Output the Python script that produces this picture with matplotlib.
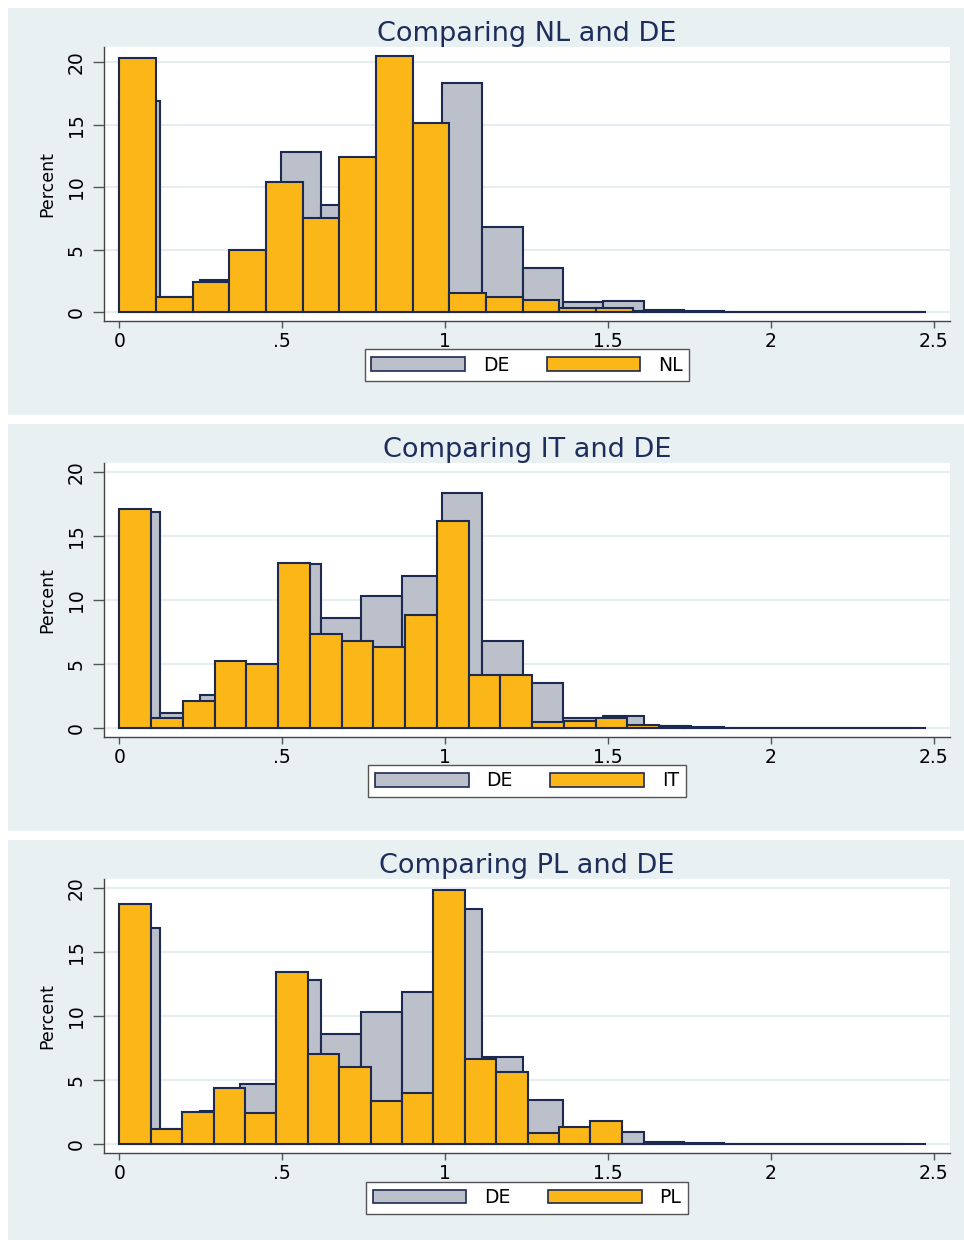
import numpy as np
import matplotlib
matplotlib.use('Agg')
import matplotlib.pyplot as plt
from matplotlib.patches import Patch, Rectangle

# Percent per bin (DE is the reference country)
de_pct = [16.9, 1.2, 2.6, 4.7, 12.85, 8.6, 10.3, 11.9, 18.35, 6.85,
          3.5, 0.83, 0.93, 0.2, 0.12, 0.05, 0.03, 0.02, 0.01, 0.01]
de_width = 0.1238

nl_pct = [20.3, 1.25, 2.45, 5.0, 10.4, 7.55, 12.45, 20.5, 15.15, 1.55,
          1.22, 1.0, 0.37, 0.37, 0.1, 0.05, 0.03, 0.02, 0.02, 0.01, 0.01, 0.01]
nl_width = 0.1126

it_pct = [17.1, 0.83, 2.16, 5.29, 5.03, 12.92, 7.4, 6.8, 6.33, 8.85,
          16.2, 4.17, 4.14, 0.49, 0.6, 0.81, 0.26, 0.18, 0.05, 0.02,
          0.02, 0.01, 0.01, 0.01, 0.01]
it_width = 0.0975

pl_pct = [18.78, 1.17, 2.55, 4.38, 2.42, 13.49, 7.03, 6.07, 3.36, 4.04,
          19.9, 6.69, 5.63, 0.91, 1.38, 1.8, 0.05, 0.03, 0.02, 0.01,
          0.01, 0.01, 0.01, 0.01, 0.01]
pl_width = 0.0964

countries = ['NL', 'IT', 'PL']
country_pct = [nl_pct, it_pct, pl_pct]
country_width = [nl_width, it_width, pl_width]

x_ticks = [0, 0.5, 1, 1.5, 2, 2.5]
x_tick_labels = ['0', '.5', '1', '1.5', '2', '2.5']
y_ticks = [0, 5, 10, 15, 20]

# colours (Stata s2color look)
bg = '#e8f0f2'
grid_c = '#e3ecef'
gray = '#bcc0ca'
orange = '#fbb618'
navy = '#1c2a52'
title_c = '#1e2e5c'

W, H = 964, 1240
fig = plt.figure(figsize=(W / 100, H / 100), dpi=100, facecolor='white')
plt.rcParams['font.family'] = ['DejaVu Sans']


def fx(px):
    return px / W


def fy(px):
    return 1 - px / H


# panel background boxes, in pixels: (top, bottom)
panels = [(8, 415), (424, 831), (840, 1240)]
# plot area in pixels: (top, bottom) and y limits
plot_boxes = [(47, 321), (463.3, 736.7), (879.4, 1153.3)]
y_limits = [(-0.70, 21.22), (-0.66, 20.70), (-0.70, 20.69)]

for i, name in enumerate(countries):
    top, bot = panels[i]
    fig.patches.append(Rectangle((fx(8), fy(bot)), fx(W - 8), (bot - top) / H,
                                 transform=fig.transFigure, facecolor=bg,
                                 linewidth=0, zorder=-1))

    ptop, pbot = plot_boxes[i]
    ax = fig.add_axes([fx(104), fy(pbot), fx(950 - 104), (pbot - ptop) / H])
    ax.set_facecolor('white')

    # DE first, the other country on top
    de_x = np.arange(len(de_pct)) * de_width
    ax.bar(de_x, de_pct, width=de_width, align='edge', color=gray,
           edgecolor=navy, linewidth=1.5, zorder=2)
    c_x = np.arange(len(country_pct[i])) * country_width[i]
    ax.bar(c_x, country_pct[i], width=country_width[i], align='edge',
           color=orange, edgecolor=navy, linewidth=1.5, zorder=3)

    ax.set_xlim(-0.047, 2.55)
    ax.set_ylim(*y_limits[i])
    ax.set_xticks(x_ticks)
    ax.set_xticklabels(x_tick_labels, fontsize=13.5)
    ax.set_yticks(y_ticks)
    ax.set_yticklabels([str(v) for v in y_ticks], rotation=90, fontsize=13.5,
                       va='center')
    ax.tick_params(axis='y', length=8, width=1, color='#555555', pad=5)
    ax.tick_params(axis='x', length=5, width=1, color='#555555', pad=3)
    ax.yaxis.grid(True, color=grid_c, linewidth=1.3, zorder=0)
    ax.set_axisbelow(True)

    for s in ['top', 'right']:
        ax.spines[s].set_visible(False)
    for s in ['left', 'bottom']:
        ax.spines[s].set_color('#444444')
        ax.spines[s].set_linewidth(1)

    ax.set_ylabel('Percent', fontsize=12.5)
    ax.yaxis.set_label_coords(-0.056, 0.5)
    ax.set_title('Comparing ' + name + ' and DE', fontsize=19.5,
                 color=title_c, pad=2)

    handles = [Patch(facecolor=gray, edgecolor=navy, linewidth=1.2),
               Patch(facecolor=orange, edgecolor=navy, linewidth=1.2)]
    leg = ax.legend(handles, ['DE', name], loc='center',
                    bbox_to_anchor=(0.5, -0.162), ncol=2, fontsize=13.5,
                    frameon=True, fancybox=False, framealpha=1,
                    handlelength=5.0, handleheight=0.75, handletextpad=0.95,
                    columnspacing=2.0, borderpad=0.35)
    leg.get_frame().set_edgecolor('#555555')
    leg.get_frame().set_linewidth(1)

fig.savefig('out.png', dpi=100, facecolor='white')
